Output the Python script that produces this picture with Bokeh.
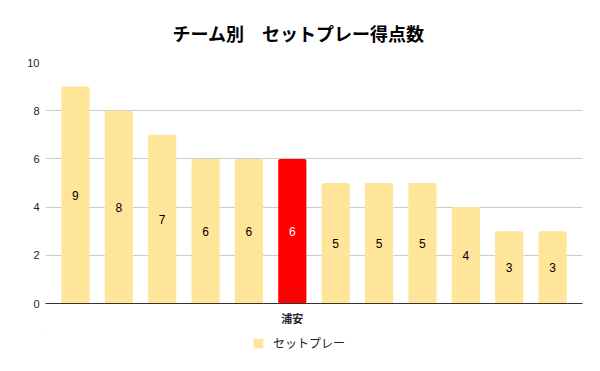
from bokeh.plotting import figure
from bokeh.layouts import column
from bokeh.models import (ColumnDataSource, Range1d, FixedTicker, Legend, LegendItem)
from bokeh.core.properties import value
from bokeh.embed import file_html
from bokeh.resources import INLINE

# data
team_labels = ["", "", "", "", "", "浦安", "", "", "", "", "", ""]
setplay_points = [9, 8, 7, 6, 6, 6, 5, 5, 5, 4, 3, 3]
highlight_team = "浦安"
series_name = "セットプレー"
title_text = "チーム別　セットプレー得点数"
y_ticks = [0, 2, 4, 6, 8, 10]

YELLOW = "#ffe599"
RED = "#ff0000"
FONT = "Noto Sans CJK JP"
NUMFONT = "Liberation Sans"

xs = list(range(len(setplay_points)))
colors = [RED if t == highlight_team else YELLOW for t in team_labels]
text_colors = ["#ffffff" if t == highlight_team else "#000000" for t in team_labels]
src = ColumnDataSource(dict(
    x=xs, top=setplay_points, mid=[v / 2 for v in setplay_points],
    label=[str(v) for v in setplay_points], color=colors, tcolor=text_colors,
))

p = figure(width=592, height=328, output_backend="svg", toolbar_location=None,
           x_range=Range1d(-0.69, len(xs) - 1 + 0.69), y_range=Range1d(0, 10),
           min_border_left=45, min_border_right=10, min_border_top=62, min_border_bottom=25)
p.outline_line_color = None
p.background_fill_color = "white"
p.border_fill_color = "white"

r = p.vbar(x="x", top="top", width=0.65, bottom=0, fill_color="color", line_color=None,
           border_radius=2, source=src)
p.text(x="x", y="mid", text="label", source=src, text_align="center", text_baseline="middle",
       text_font=value(NUMFONT), text_font_size="12px", text_color="tcolor")

# axes
p.yaxis.ticker = FixedTicker(ticks=y_ticks)
p.yaxis.axis_line_color = None
p.yaxis.major_tick_line_color = None
p.yaxis.minor_tick_line_color = None
p.yaxis.major_label_text_font = NUMFONT
p.yaxis.major_label_text_font_size = "11px"
p.yaxis.major_label_text_color = "#222222"
p.yaxis.major_label_standoff = 0

p.xaxis.ticker = FixedTicker(ticks=xs)
p.xaxis.major_label_overrides = {i: t for i, t in zip(xs, team_labels)}
p.xaxis.axis_line_color = "#333333"
p.xaxis.major_tick_line_color = None
p.xaxis.minor_tick_line_color = None
p.xaxis.major_label_text_font = FONT
p.xaxis.major_label_text_font_size = "11px"
p.xaxis.major_label_text_font_style = "bold"
p.xaxis.major_label_text_color = "#222222"
p.xaxis.major_label_standoff = 0

p.xgrid.grid_line_color = None
p.ygrid.grid_line_color = "#cccccc"
p.ygrid.ticker = FixedTicker(ticks=y_ticks)

p.title.text = title_text
p.title.align = "left"
p.title.offset = 127
p.title.text_font = FONT
p.title.text_font_size = "18px"
p.title.text_font_style = "bold"
p.title.text_color = "#000000"
p.title.standoff = 33

# legend strip below the chart (its renderer's bars lie outside the visible ranges)
lg = figure(width=592, height=35, output_backend="svg", toolbar_location=None,
            x_range=Range1d(1000, 1001), y_range=Range1d(-20, -10),
            x_axis_location=None, y_axis_location=None,
            min_border_left=0, min_border_right=0, min_border_top=0, min_border_bottom=0)
lg.grid.visible = False
lg.outline_line_color = None
sw = lg.vbar(x="x", top="top", width=0.65, source=src, fill_color=YELLOW, line_color=None)
legend = Legend(items=[LegendItem(label=series_name, renderers=[sw])],
                orientation="horizontal", location=(207, 12), border_line_color=None,
                background_fill_alpha=0,
                label_text_font=FONT, label_text_font_size="12px", label_text_color="#222222",
                glyph_width=12, glyph_height=12, label_standoff=9, margin=0, padding=4)
lg.add_layout(legend, "center")

layout = column(p, lg, spacing=0)
open("out.html", "w").write(file_html(layout, INLINE))
